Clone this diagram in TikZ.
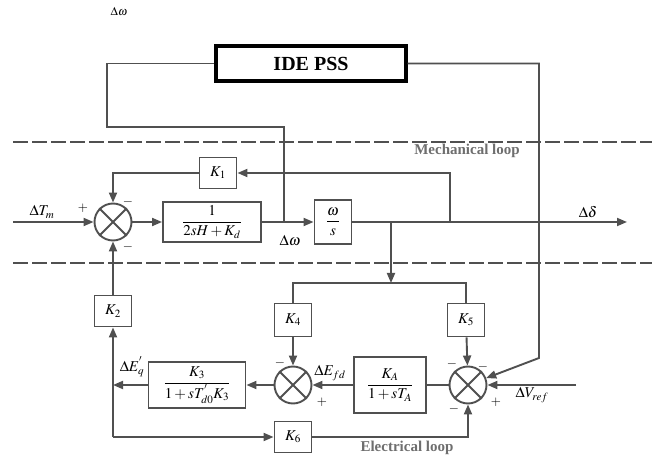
\documentclass[tikz,border=0pt]{standalone}
\usepackage{amsmath}
\usepackage{mathptmx}
\usepackage{fontspec}
\setmainfont{Liberation Serif}
\usetikzlibrary{arrows.meta}
\definecolor{wiregray}{RGB}{80,80,80}
\definecolor{looptext}{RGB}{110,110,110}

\begin{document}
\begin{tikzpicture}[x=1pt, y=-1pt, font=\fontsize{15}{17}\selectfont,
  blk/.style={draw=wiregray, line width=1.9pt, inner sep=2pt, minimum width=37pt, minimum height=31pt},
  sumj/.style={circle, draw=wiregray, line width=1.9pt, minimum size=37pt, inner sep=0pt},
  wire/.style={draw=wiregray, line width=1.9pt},
  sig/.style={wire, -{Triangle[length=10pt,width=8pt]}},
  sgn/.style={inner sep=0pt, font=\fontsize{13}{14}\selectfont},
  looplbl/.style={text=looptext, font=\fontsize{15}{16}\selectfont\bfseries}]

\path[use as bounding box] (0,0) rectangle (659,462);

% Stabiliser
\node[inner sep=0pt, font=\fontsize{12}{13}\selectfont] (wtop) at (119,12) {$\Delta\omega$};
\node[draw=black, line width=3.2pt, minimum width=190pt, minimum height=35pt,
      font=\fontsize{20}{22}\selectfont\bfseries] (pss) at (311,63.5) {IDE PSS};

% Separators
\draw[wiregray, line width=2.6pt, dash pattern=on 15pt off 4pt] (13,142) -- (652,142);
\draw[wiregray, line width=2.6pt, dash pattern=on 15pt off 4pt] (13,263) -- (652,263);
\node[looplbl] (mech) at (467,151) {Mechanical loop};
\node[looplbl] (elec) at (407,448) {Electrical loop};

% Mechanical loop
\node[sumj] (sum1) at (113,222) {};
\node[blk] (k1) at (218,173) {$K_1$};
\node[blk, minimum width=98pt, minimum height=40pt] (g1) at (212,222) {$\dfrac{1}{2sH+K_d}$};
\node[blk, minimum width=37pt, minimum height=44pt] (ws) at (333,222) {$\dfrac{\omega}{s}$};

% Electrical loop
\node[blk] (k2) at (113,311) {$K_2$};
\node[blk, minimum height=33pt] (k4) at (293,320) {$K_4$};
\node[blk, minimum height=33pt] (k5) at (466,320) {$K_5$};
\node[sumj] (sum2) at (293,385) {};
\node[blk, minimum width=97pt, minimum height=46pt] (k3) at (197,385) {$\dfrac{K_3}{1+sT^{'}_{d0}K_3}$};
\node[blk, minimum width=72pt, minimum height=56pt] (ka) at (390,385) {$\dfrac{K_A}{1+sT_A}$};
\node[sumj] (sum3) at (468,385) {};
\node[blk] (k6) at (293,437) {$K_6$};

% Branch points
\coordinate (tin) at (13,222);
\coordinate (jw) at (284,222);
\coordinate (jd) at (391,222);
\coordinate (jk1) at (450,222);
\coordinate (dd) at (627,222);
\coordinate (jbus) at (391,283);
\coordinate (c1) at (107,127);
\coordinate (c2) at (539,358);
\coordinate (c3) at (113,437);
\coordinate (jq) at (113,385);
\coordinate (vref) at (576,385);

\foreach \s in {sum1,sum2,sum3} {
   \draw[wire] (\s.45) -- (\s.225) (\s.135) -- (\s.315);
}

% Edges
\draw[sig] (tin) -- (sum1);
\draw[sig] (sum1) -- (g1);
\draw[sig] (g1) -- (ws);
\draw[sig] (ws) -- (dd);
\draw[sig] (jk1) |- (k1);
\draw[sig] (k1) -| (sum1);
\draw[wire] (pss.west) -| (c1) -| (jw);
\draw[sig] (pss.east) -| (c2) -- (sum3);
\draw[sig] (jd) -- (jbus);
\draw[wire] (k4) -- (k4 |- jbus) -- (k5 |- jbus) -- (k5);
\draw[sig] (k4) -- (sum2);
\draw[sig] (k5) -- (sum3);
\draw[sig] (vref) -- (sum3);
\draw[wire] (sum3) -- (ka);
\draw[sig] (ka) -- (sum2);
\draw[sig] (sum2) -- (k3);
\draw[sig] (k3) -- (jq);
\draw[sig] (c3) -- (k2);
\draw[sig] (k2) -- (sum1);
\draw[sig] (c3) -- (k6);
\draw[sig] (k6) -| (sum3);

% Signal names and signs
\node[inner sep=0pt] (tm) at (42,212) {$\Delta T_m$};
\node[inner sep=0pt] (wmid) at (290,241) {$\Delta\omega$};
\node[inner sep=0pt] (dlt) at (588,212) {$\Delta\delta$};
\node[inner sep=0pt] (eq) at (132,367) {$\Delta E^{'}_{q}$};
\node[inner sep=0pt] (efd) at (330,373) {$\Delta E_{fd}$};
\node[inner sep=0pt] (vr) at (532,395) {$\Delta V_{ref}$};
\node[sgn] (s1a) at (83,208) {$+$};
\node[sgn] (s1b) at (128,202) {$-$};
\node[sgn] (s1c) at (128,247) {$-$};
\node[sgn] (s2a) at (280,363) {$-$};
\node[sgn] (s2b) at (322,402) {$+$};
\node[sgn] (s3a) at (452,364) {$-$};
\node[sgn] (s3b) at (483,367) {$-$};
\node[sgn] (s3c) at (454,409) {$-$};
\node[sgn] (s3d) at (496,402) {$+$};
\end{tikzpicture}
\end{document}
